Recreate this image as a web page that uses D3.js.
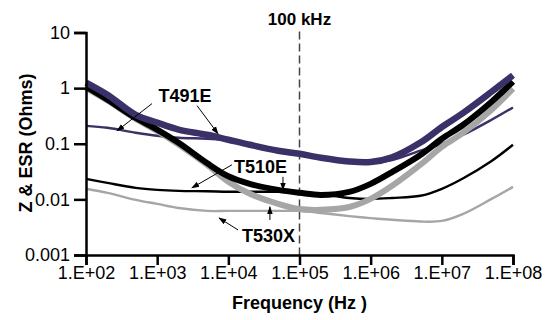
<!DOCTYPE html>
<html>
<head>
<meta charset="utf-8">
<script src="https://cdn.jsdelivr.net/npm/d3@7"></script>
<style>
  html, body { margin: 0; padding: 0; background: #fff; }
  svg { display: block; font-family: "Liberation Sans", Arial, sans-serif; }
</style>
</head>
<body>
<svg id="chart" width="547" height="320"></svg>
<script>
// ---------- data ----------
const freqs = [1e2, 2e2, 5e2, 1e3, 2e3, 5e3, 1e4, 2e4, 5e4, 1e5, 2e5, 5e5, 1e6, 2e6, 5e6, 1e7, 2e7, 5e7, 1e8];

const t491eZ   = [1.26, 0.76, 0.33, 0.24, 0.18, 0.145, 0.118, 0.096, 0.075, 0.066, 0.056, 0.048, 0.047, 0.057, 0.105, 0.2, 0.36, 0.86, 1.7];
const t491eESR = [0.21, 0.194, 0.158, 0.139, 0.128, 0.123, 0.115, 0.093, 0.073, 0.064, 0.054, 0.046, 0.045, 0.051, 0.075, 0.1, 0.145, 0.27, 0.45];
const t510eZ   = [1.06, 0.62, 0.29, 0.18, 0.104, 0.045, 0.026, 0.019, 0.0148, 0.0131, 0.012, 0.0136, 0.019, 0.031, 0.063, 0.123, 0.22, 0.57, 1.31];
const t510eESR = [0.0234, 0.0198, 0.0161, 0.0148, 0.0142, 0.014, 0.0137, 0.0137, 0.0137, 0.0136, 0.0125, 0.0106, 0.0102, 0.0106, 0.0116, 0.0155, 0.024, 0.049, 0.096];
const t530xZ   = [1.0, 0.6, 0.28, 0.17, 0.097, 0.042, 0.0207, 0.0126, 0.0083, 0.0067, 0.0065, 0.0073, 0.0102, 0.0175, 0.042, 0.088, 0.158, 0.41, 0.98];
const t530xESR = [0.0155, 0.0131, 0.0098, 0.0083, 0.007, 0.0062, 0.0062, 0.0062, 0.0062, 0.0062, 0.0057, 0.005, 0.0046, 0.0043, 0.004, 0.0041, 0.0055, 0.0102, 0.0168];

const xTicks = [1e2, 1e3, 1e4, 1e5, 1e6, 1e7, 1e8];
const xTickLabels = ["1.E+02", "1.E+03", "1.E+04", "1.E+05", "1.E+06", "1.E+07", "1.E+08"];
const yTicks = [0.001, 0.01, 0.1, 1, 10];
const yTickLabels = ["0.001", "0.01", "0.1", "1", "10"];

const markerFreq = 1e5;
const markerLabel = "100 kHz";
const xTitle = "Frequency (Hz )";
const yTitle = "Z & ESR (Ohms)";

// annotation labels and arrows (positions in data space: [freq, ohms])
const labelNames = ["T491E", "T510E", "T530X"];
const labelAt = [[2460, 0.57], [28300, 0.030], [36600, 0.00171]];
const arrowFrom = [[845, 0.526], [3630, 0.484], [11250, 0.0419], [58600, 0.0254], [13700, 0.00282], [38400, 0.00427]];
const arrowTo   = [[273, 0.171], [7160, 0.151], [3080, 0.0161], [58600, 0.0148], [7400, 0.00464], [38400, 0.00733]];

// ---------- styles ----------
const PURPLE = "#3b3068", BLACK = "#000000", GRAY = "#a6a6a6";
const series = [
  { values: t530xESR, color: GRAY,   width: 2.4 },
  { values: t510eESR, color: BLACK,  width: 2.4 },
  { values: t491eESR, color: PURPLE, width: 2.4 },
  { values: t530xZ,   color: GRAY,   width: 6 },
  { values: t510eZ,   color: BLACK,  width: 6 },
  { values: t491eZ,   color: PURPLE, width: 6.5 }
];

// ---------- chart ----------
const svg = d3.select("#chart");
const x = d3.scaleLog().domain([1e2, 1e8]).range([86, 513]);
const y = d3.scaleLog().domain([0.001, 10]).range([255, 32.5]);

// dashed 100 kHz marker
svg.append("line")
  .attr("x1", x(markerFreq)).attr("x2", x(markerFreq))
  .attr("y1", y(10) - 1).attr("y2", y(0.001))
  .attr("stroke", "#444").attr("stroke-width", 1.5)
  .attr("stroke-dasharray", "8,4");
svg.append("text")
  .attr("x", x(markerFreq)).attr("y", 25)
  .attr("text-anchor", "middle")
  .attr("font-size", 17).attr("font-weight", "bold")
  .text(markerLabel);

// curves
const line = d3.line()
  .x((d, i) => x(freqs[i]))
  .y(d => y(d))
  .curve(d3.curveCatmullRom.alpha(0.5));

svg.append("g").selectAll("path")
  .data(series).join("path")
  .attr("d", s => line(s.values))
  .attr("fill", "none")
  .attr("stroke", s => s.color)
  .attr("stroke-width", s => s.width)
  .attr("stroke-linecap", "butt")
  .attr("stroke-linejoin", "round");

// axes
const xAxis = d3.axisBottom(x).tickValues(xTicks)
  .tickFormat((d, i) => xTickLabels[i]).tickSizeOuter(0).tickSize(10).tickPadding(1);
const yAxis = d3.axisLeft(y).tickValues(yTicks)
  .tickFormat((d, i) => yTickLabels[i]).tickSizeOuter(0).tickSize(12).tickPadding(4);

const gx = svg.append("g").attr("transform", "translate(0,255)").call(xAxis);
const gy = svg.append("g").attr("transform", "translate(86,0)").call(yAxis);
[gx, gy].forEach(g => {
  g.select(".domain").attr("stroke", "#000").attr("stroke-width", 2.5);
  g.selectAll(".tick line").attr("stroke", "#000").attr("stroke-width", 2.5);
  g.selectAll(".tick text").attr("font-size", 18).attr("fill", "#000")
    .attr("font-family", "'Liberation Sans', Arial, sans-serif");
});

// axis titles
svg.append("text")
  .attr("x", x(markerFreq)).attr("y", 309)
  .attr("text-anchor", "middle").attr("font-size", 18).attr("font-weight", "bold")
  .text(xTitle);
svg.append("text")
  .attr("transform", "translate(32,143) rotate(-90)")
  .attr("text-anchor", "middle").attr("font-size", 18).attr("font-weight", "bold")
  .text(yTitle);

// arrows
const defs = svg.append("defs");
defs.append("marker")
  .attr("id", "ah").attr("viewBox", "0 0 10 10")
  .attr("refX", 9).attr("refY", 5)
  .attr("markerWidth", 8).attr("markerHeight", 8)
  .attr("markerUnits", "userSpaceOnUse")
  .attr("orient", "auto")
  .append("path").attr("d", "M0,1.5 L10,5 L0,8.5 Z").attr("fill", "#000");

svg.append("g").selectAll("line")
  .data(arrowFrom).join("line")
  .attr("x1", d => x(d[0])).attr("y1", d => y(d[1]))
  .attr("x2", (d, i) => x(arrowTo[i][0])).attr("y2", (d, i) => y(arrowTo[i][1]))
  .attr("stroke", "#000").attr("stroke-width", 1)
  .attr("marker-end", "url(#ah)");

// labels
svg.append("g").selectAll("text")
  .data(labelNames).join("text")
  .attr("x", (d, i) => x(labelAt[i][0])).attr("y", (d, i) => y(labelAt[i][1]))
  .attr("text-anchor", "middle").attr("font-size", 18).attr("font-weight", "bold")
  .text(d => d);
</script>
</body>
</html>
